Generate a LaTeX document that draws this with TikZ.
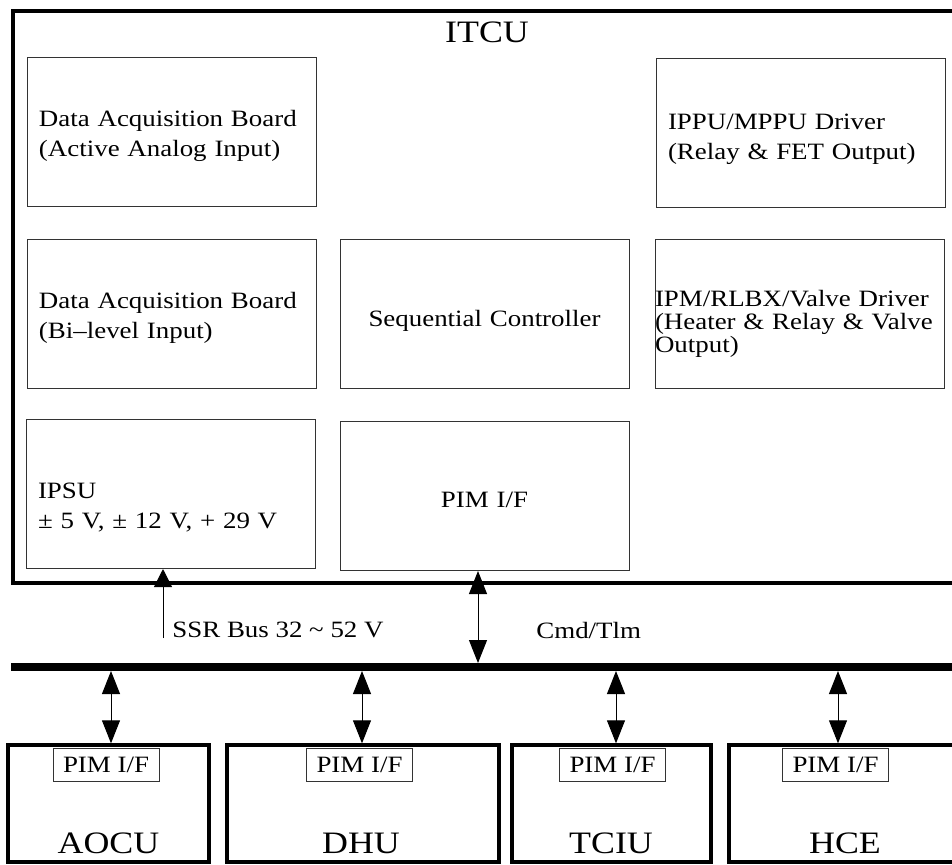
\documentclass[tikz,border=0pt]{standalone}
\usepackage{fontspec}
\setmainfont{Liberation Serif}[FakeStretch=1.15]
\usetikzlibrary{arrows.meta,positioning}

\newcommand{\boardfont}{\fontsize{11.7}{15}\selectfont}
\newcommand{\unitfont}{\fontsize{15.6}{18}\selectfont}

\tikzset{
    board/.style={draw=black!80, line width=0.5pt, minimum height=74.5pt,
        inner xsep=6pt, text width=132.5pt, align=left, font=\boardfont},
    midboard/.style={board, align=center},
    tightboard/.style={board, inner xsep=0pt, text width=144.5pt,
        font=\fontsize{11.7}{11.5}\selectfont},
    textdrop/.style={execute at begin node={\rule{0pt}{#1}}},
    itcubox/.style={draw, line width=2pt, minimum width=476pt, minimum height=286pt},
    unitbox/.style={draw, line width=1.7pt, minimum height=58.5pt},
    unitname/.style={font=\unitfont, anchor=base, inner sep=0pt},
    pimbox/.style={draw=black!80, line width=0.5pt, minimum width=53pt,
        minimum height=16.5pt, inner sep=0pt, font=\boardfont},
    busline/.style={line width=4pt},
    link/.style={line width=0.5pt,
        {Triangle[length=11.5pt,width=9pt]}-{Triangle[length=11.5pt,width=9pt]}},
    feed/.style={line width=0.5pt, -{Triangle[length=9pt,width=9pt]}},
    lbl/.style={font=\boardfont, anchor=base west, inner sep=0pt}
}

\begin{document}
\begin{tikzpicture}[x=0.5pt, y=-0.5pt]
        \useasboundingbox (0,0) rectangle (952,864);

        \node[itcubox] at (489,297)(itcu){};
        \node[unitname] at (487,42)(itcuname){ITCU};

        \node[board, textdrop=13pt] at (171.5,131.5)(daqa){Data Acquisition Board\\(Active Analog Input)};
        \node[board, textdrop=15pt] at (800.5,132.5)(ippu){IPPU/MPPU Driver\\(Relay \& FET Output)};
        \node[board, textdrop=12pt] at (171.5,313.5)(daqb){Data Acquisition Board\\(Bi--level Input)};
        \node[midboard, textdrop=15pt] at (484.5,314)(seq){Sequential Controller};
        \node[tightboard, textdrop=18pt] at (799.5,314)(ipm){IPM/RLBX/Valve Driver\\(Heater \& Relay \& Valve\\Output)};
        \node[board, textdrop=21pt] at (170.5,494)(ipsu){IPSU\\± 5 V, ± 12 V, + 29 V};
        \node[midboard, textdrop=12pt] at (484.5,496)(pimi){PIM I/F};

        \node[unitbox, minimum width=100.5pt] at (108.5,803.5)(aocu){};
        \node[unitbox, minimum width=136pt] at (363,803.5)(dhu){};
        \node[unitbox, minimum width=99.5pt] at (611.5,803.5)(tciu){};
        \node[unitbox, minimum width=116pt] at (845,803.5)(hce){};

        \node[pimbox] at (106,764.5)(aocupim){PIM I/F};
        \node[pimbox] at (359.5,764.5)(dhupim){PIM I/F};
        \node[pimbox] at (612.5,764.5)(tciupim){PIM I/F};
        \node[pimbox] at (835.5,764.5)(hcepim){PIM I/F};

        \node[unitname] at (108.5,853)(aocuname){AOCU};
        \node[unitname] at (361,853)(dhuname){DHU};
        \node[unitname] at (611,853)(tciuname){TCIU};
        \node[unitname] at (845,853)(hcename){HCE};

        \coordinate (busw) at (11,667);
        \coordinate (buse) at (960,667);
        \draw[busline] (busw) -- (buse);

        \coordinate (ssrfoot) at (163,638);
        \coordinate (cmdfoot) at (478,663);
        \coordinate (aocufoot) at (111,671);
        \coordinate (dhufoot) at (362,671);
        \coordinate (tciufoot) at (616,671);
        \coordinate (hcefoot) at (838,671);

        \path[feed] (ssrfoot) edge (ssrfoot |- ipsu.south);
        \path[link]
            (cmdfoot) edge (cmdfoot |- pimi.south)
            (aocufoot) edge (aocufoot |- aocu.north)
            (dhufoot) edge (dhufoot |- dhu.north)
            (tciufoot) edge (tciufoot |- tciu.north)
            (hcefoot) edge (hcefoot |- hce.north)
            ;

        \node[lbl] at (172,637)(ssr){SSR Bus 32 \textasciitilde{} 52 V};
        \node[lbl] at (536,638)(cmd){Cmd/Tlm};
    \end{tikzpicture}
\end{document}
